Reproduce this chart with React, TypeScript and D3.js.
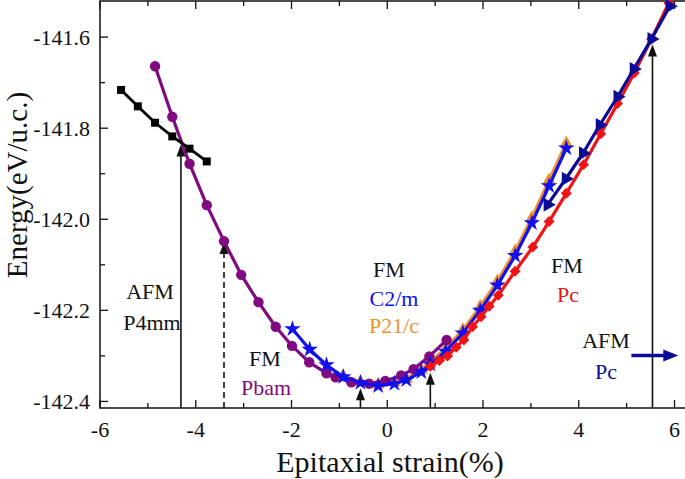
import React from "react";
import * as d3 from "d3";

// ---- data ----
const p4mmX = [-5.56, -5.21, -4.85, -4.49, -4.13, -3.77];
const p4mmY = [-141.716, -141.752, -141.788, -141.818, -141.845, -141.873];

const pbamX = [-4.85, -4.49, -4.13, -3.77, -3.41, -3.05, -2.69, -2.33, -1.99, -1.63, -1.27, -1.08, -0.75, -0.38, -0.04, 0.29, 0.55, 0.88, 1.24];
const pbamY = [-141.664, -141.775, -141.878, -141.969, -142.048, -142.122, -142.182, -142.236, -142.278, -142.314, -142.338, -142.347, -142.358, -142.361, -142.355, -142.343, -142.329, -142.301, -142.265];

const c2mX = [-1.98, -1.62, -1.27, -0.92, -0.56, -0.19, 0.15, 0.4, 0.71, 0.9, 1.22, 1.58, 1.94, 2.3, 2.67, 3.02, 3.38, 3.74];
const c2mY = [-142.241, -142.286, -142.32, -142.346, -142.359, -142.366, -142.361, -142.353, -142.335, -142.318, -142.29, -142.25, -142.2, -142.145, -142.08, -142.008, -141.927, -141.844];

const p21cX = [-0.92, -0.56, -0.19, 0.15, 0.4, 0.71, 0.9, 1.22, 1.58, 1.94, 2.3, 2.67, 3.02, 3.38, 3.74];
const p21cY = [-142.344, -142.357, -142.363, -142.358, -142.35, -142.331, -142.313, -142.284, -142.243, -142.192, -142.136, -142.07, -141.997, -141.914, -141.833];

const pcFmX = [0.9, 1.09, 1.26, 1.44, 1.6, 1.78, 1.96, 2.13, 2.32, 2.67, 3.04, 3.38, 3.74, 4.1, 4.46, 4.81, 5.16, 5.52, 5.88];
const pcFmY = [-142.323, -142.31, -142.3, -142.281, -142.265, -142.236, -142.214, -142.191, -142.167, -142.114, -142.061, -142.005, -141.943, -141.88, -141.812, -141.746, -141.679, -141.604, -141.525];

const pcAfmX = [3.35, 3.73, 4.09, 4.44, 4.81, 5.15, 5.52, 5.9];
const pcAfmY = [-141.968, -141.911, -141.855, -141.793, -141.731, -141.67, -141.604, -141.532];

const xTicks = [-6, -4, -2, 0, 2, 4, 6];
const xMinor = [-5, -3, -1, 1, 3, 5];
const yTicks = [-141.6, -141.8, -142.0, -142.2, -142.4];
const yMinor = [-141.7, -141.9, -142.1, -142.3];

const arrowX = [-4.31, -3.41, -0.56, 0.9, 5.54];
const arrowTip = [-141.836, -142.05, -142.371, -142.337, -141.616];
const arrowDashed = [false, true, false, false, false];

const hArrowX = [5.1, 6.08];
const hArrowY = -142.299;

// ---- layout ----
const W = 685, H = 479;
const L = 100, R = 686, T = 1, B = 408;

const x = d3.scaleLinear().domain([-6, 6.24]).range([L, R]);
const y = d3.scaleLinear().domain([-142.4144, -141.5207]).range([B, T]);

const font = "'Liberation Serif', 'Times New Roman', serif";

type Series = { xs: number[]; ys: number[]; color: string; sym: d3.SymbolType; size: number; lw: number; rot?: number };

const line = d3.line<[number, number]>().x(d => x(d[0])).y(d => y(d[1]));

function SeriesG({ s }: { s: Series }) {
  const pts: [number, number][] = s.xs.map((v, i) => [v, s.ys[i]]);
  const sym = d3.symbol().type(s.sym).size(s.size)()!;
  return (
    <g>
      <path d={line(pts)!} fill="none" stroke={s.color} strokeWidth={s.lw} strokeLinejoin="round" />
      {pts.map((p, i) => (
        <path key={i} d={sym} fill={s.color} transform={`translate(${x(p[0])},${y(p[1])}) rotate(${s.rot || 0})`} />
      ))}
    </g>
  );
}

const series: Series[] = [
  { xs: p21cX, ys: p21cY, color: "#f0902c", sym: d3.symbolTriangle, size: 75, lw: 3.4 },
  { xs: pbamX, ys: pbamY, color: "#800a80", sym: d3.symbolCircle, size: 85, lw: 3.2 },
  { xs: c2mX, ys: c2mY, color: "#1010f0", sym: d3.symbolStar, size: 85, lw: 3.2 },
  { xs: pcFmX, ys: pcFmY, color: "#f01414", sym: d3.symbolSquare, size: 60, lw: 3.2, rot: 45 },
  { xs: pcAfmX, ys: pcAfmY, color: "#0a0a96", sym: d3.symbolTriangle, size: 85, lw: 3.2, rot: -30 },
  { xs: p4mmX, ys: p4mmY, color: "#000000", sym: d3.symbolSquare, size: 64, lw: 2.8 },
];

function Arrow({ xv, tip, dashed }: { xv: number; tip: number; dashed: boolean }) {
  const px = x(xv), py = y(tip);
  const hl = 12, hw = 4.5;
  return (
    <g>
      <line x1={px} x2={px} y1={B} y2={py + hl - 1} stroke="#111" strokeWidth={1.6} strokeDasharray={dashed ? "6,4" : undefined} />
      <path d={`M${px},${py} L${px - hw},${py + hl} L${px + hw},${py + hl} Z`} fill="#111" />
    </g>
  );
}

export default function App() {
  const hx1 = x(hArrowX[0]), hx2 = x(hArrowX[1]), hy = y(hArrowY);
  return (
    <svg width={W} height={H} style={{ position: "absolute", left: 0, top: 0, background: "#fff" }} fontFamily={font}>
      <rect x={0} y={0} width={W} height={H} fill="#fff" />
      {/* frame */}
      <rect x={L} y={T} width={R - L} height={B - T} fill="none" stroke="#111" strokeWidth={1.5} />
      {/* ticks */}
      {xTicks.map(t => (
        <g key={"xt" + t}>
          <line x1={x(t)} x2={x(t)} y1={B} y2={B - 8} stroke="#111" strokeWidth={1.3} />
          <line x1={x(t)} x2={x(t)} y1={T} y2={T + 8} stroke="#111" strokeWidth={1.3} />
          <text x={x(t)} y={B + 29} fontSize={22} textAnchor="middle" fill="#111">{t}</text>
        </g>
      ))}
      {xMinor.map(t => (
        <g key={"xm" + t}>
          <line x1={x(t)} x2={x(t)} y1={B} y2={B - 5} stroke="#111" strokeWidth={1.3} />
          <line x1={x(t)} x2={x(t)} y1={T} y2={T + 5} stroke="#111" strokeWidth={1.3} />
        </g>
      ))}
      {yTicks.map(t => (
        <g key={"yt" + t}>
          <line x1={L} x2={L + 8} y1={y(t)} y2={y(t)} stroke="#111" strokeWidth={1.3} />
          <text x={90} y={y(t)} dy="0.35em" fontSize={22} textAnchor="end" fill="#111">{t.toFixed(1)}</text>
        </g>
      ))}
      {yMinor.map(t => (
        <line key={"ym" + t} x1={L} x2={L + 5} y1={y(t)} y2={y(t)} stroke="#111" strokeWidth={1.3} />
      ))}
      {/* axis titles */}
      <text x={390} y={472} fontSize={30} textAnchor="middle" fill="#111">Epitaxial strain(%)</text>
      <text transform="translate(27,185) rotate(-90)" fontSize={29} textAnchor="middle" fill="#111">Energy(eV/u.c.)</text>

      {/* arrows */}
      {arrowX.map((v, i) => (
        <Arrow key={"a" + i} xv={v} tip={arrowTip[i]} dashed={arrowDashed[i]} />
      ))}

      {/* series */}
      {series.map((s, i) => <SeriesG key={i} s={s} />)}

      {/* horizontal navy arrow */}
      <line x1={hx1} x2={hx2 - 12} y1={hy} y2={hy} stroke="#0a0a96" strokeWidth={3.5} />
      <path d={`M${hx2},${hy} L${hx2 - 15},${hy - 6} L${hx2 - 15},${hy + 6} Z`} fill="#0a0a96" />

      {/* annotations */}
      <g fontSize={22} textAnchor="middle">
        <text x={150} y={299} fill="#111">AFM</text>
        <text x={152} y={330} fill="#111">P4mm</text>
        <text x={265} y={366} fill="#111">FM</text>
        <text x={266} y={395} fill="#800a80">Pbam</text>
        <text x={389} y={277} fill="#111">FM</text>
        <text x={394} y={306} fill="#1010f0">C2/m</text>
        <text x={394} y={333} fill="#f0902c">P21/c</text>
        <text x={567} y={273} fill="#111">FM</text>
        <text x={568} y={302} fill="#f01414">Pc</text>
        <text x={606} y={348} fill="#111">AFM</text>
        <text x={606} y={379} fill="#0a0a96">Pc</text>
      </g>
    </svg>
  );
}
